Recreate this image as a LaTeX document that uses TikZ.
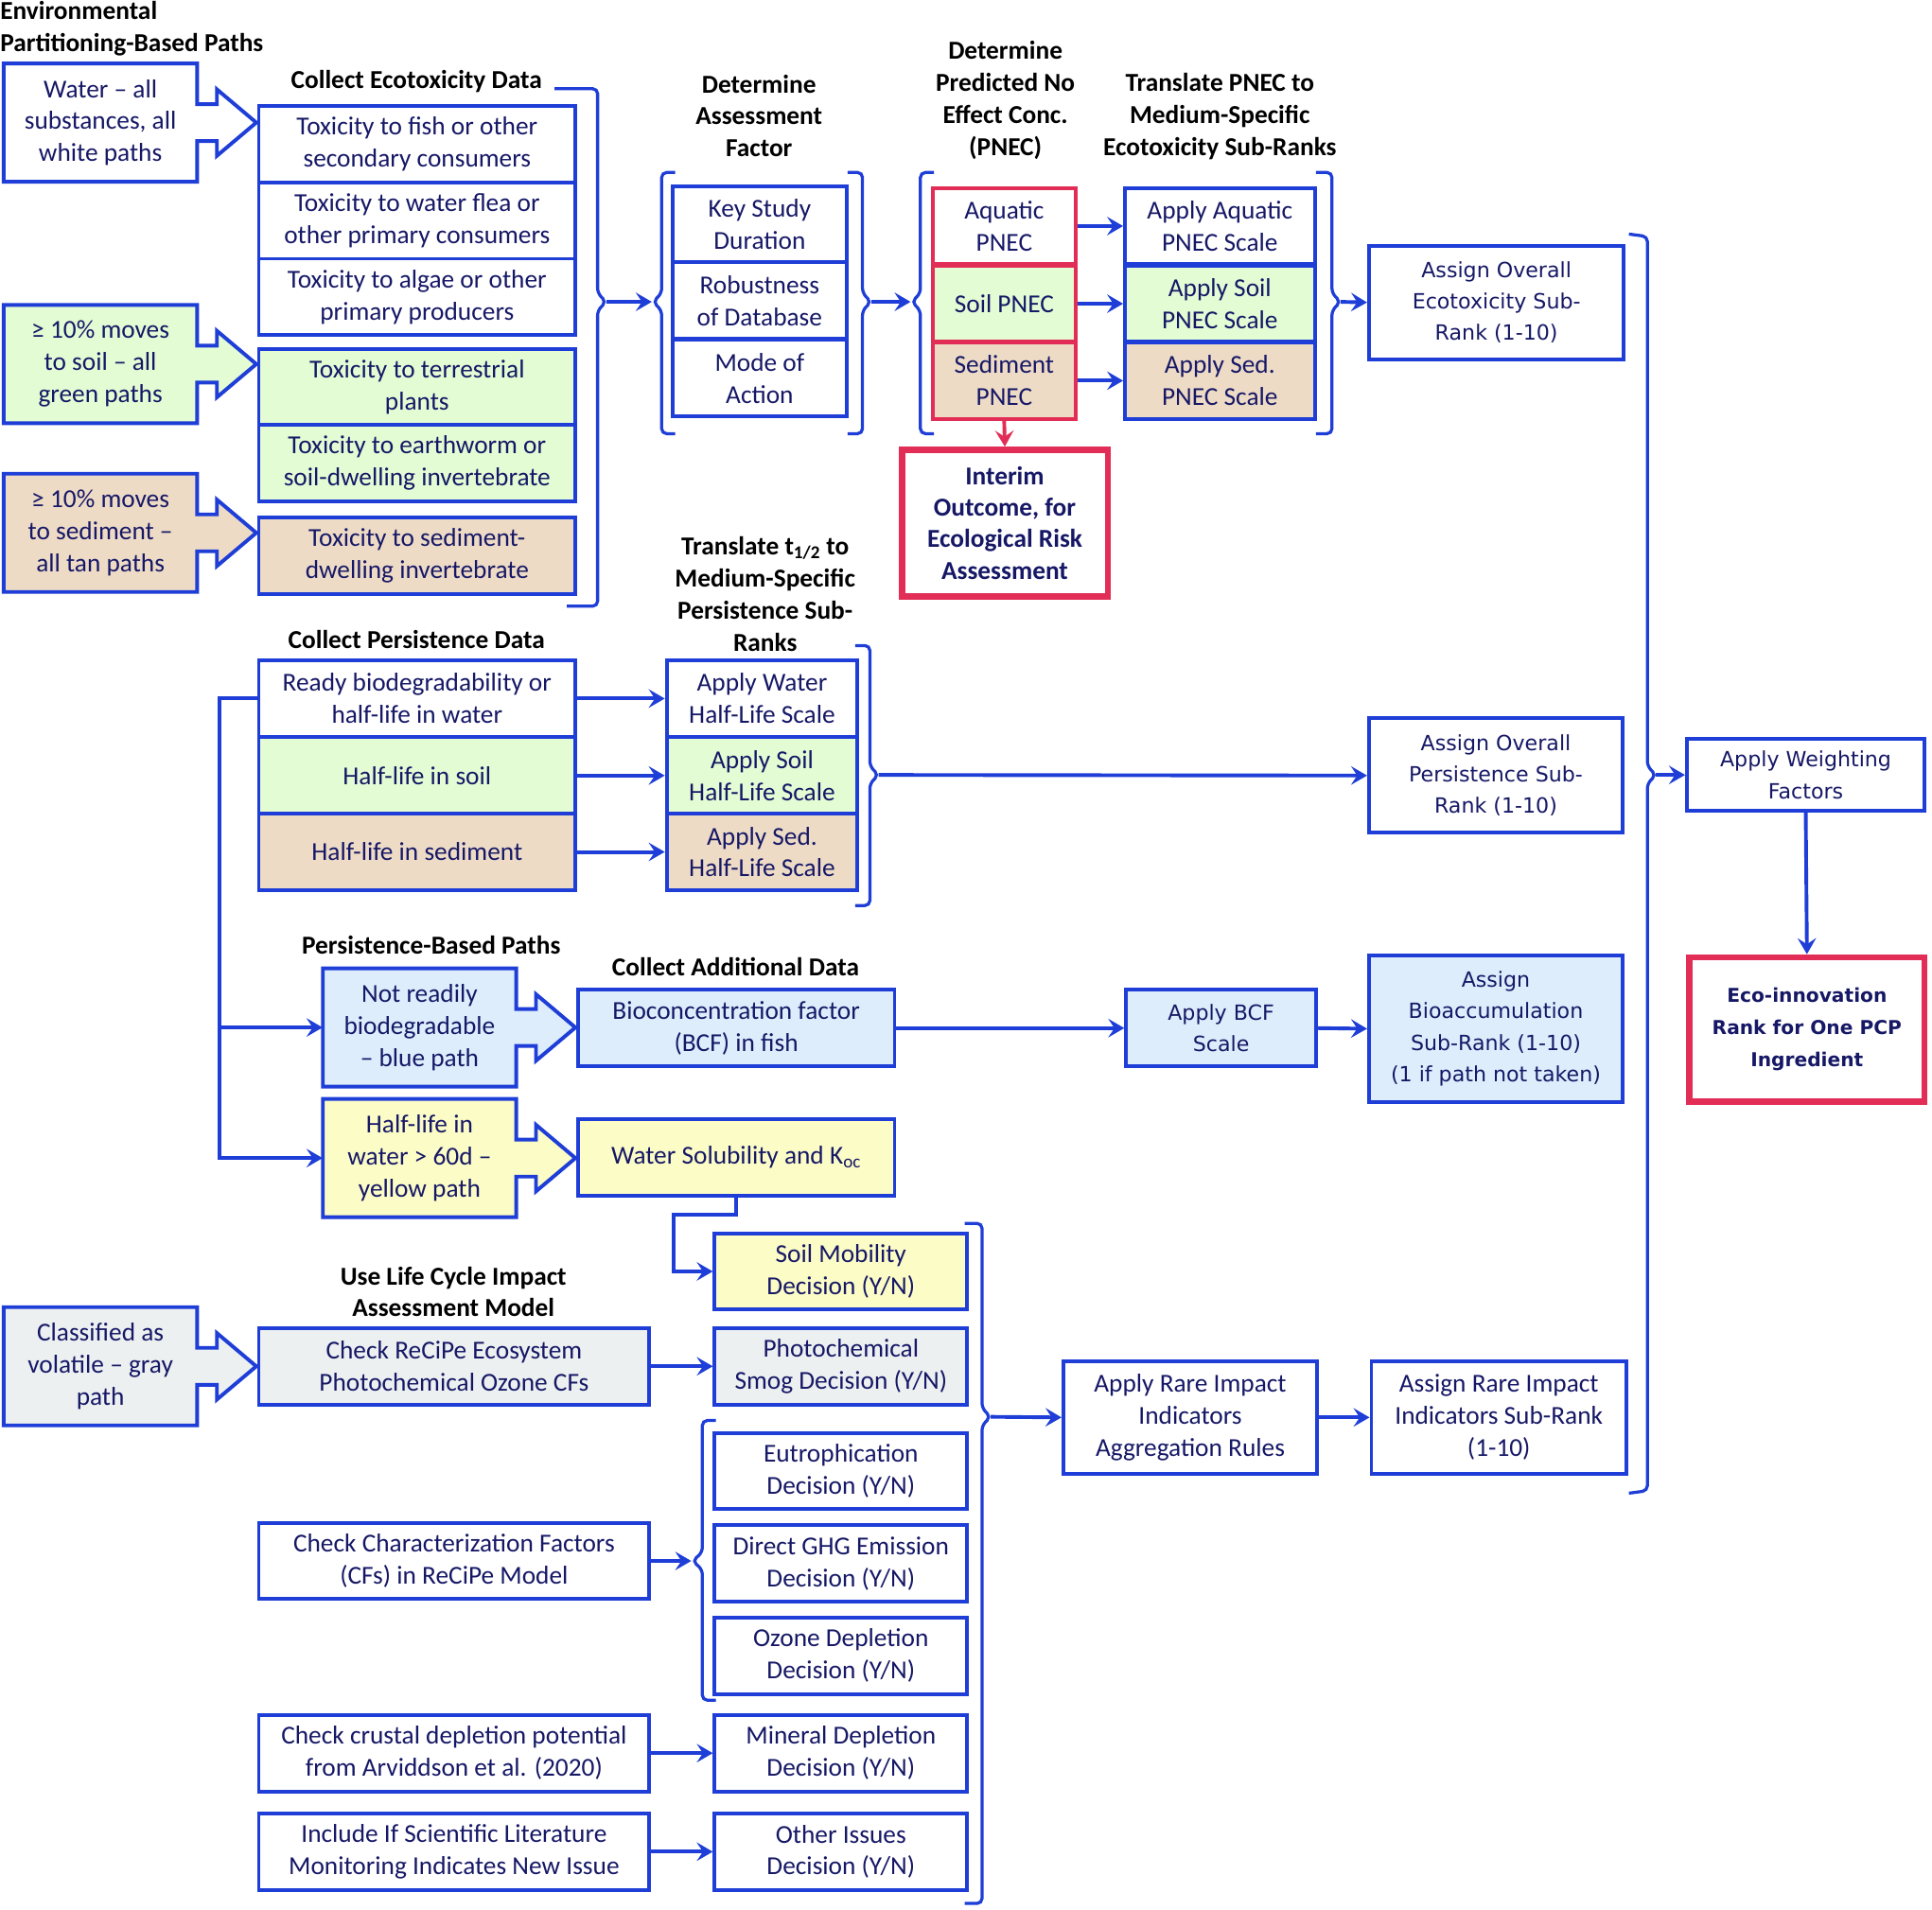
\documentclass[tikz,border=0pt]{standalone}
\usepackage{fontspec}
\setmainfont{Carlito}
\newfontfamily\verdfont{DejaVu Sans}
\usetikzlibrary{arrows.meta, calc}
\definecolor{bblue}{RGB}{30,62,215}
\definecolor{navy}{RGB}{22,24,102}
\definecolor{rred}{RGB}{226,46,86}
\definecolor{grn}{RGB}{228,252,212}
\definecolor{tanc}{RGB}{238,219,198}
\definecolor{lblue}{RGB}{221,237,252}
\definecolor{ylw}{RGB}{252,252,198}
\definecolor{gry}{RGB}{237,240,240}
\tikzset{>={Stealth[length=13pt,width=15pt,inset=5pt]}}
\tikzset{
  databox/.style={draw=bblue, line width=3pt, text=navy, align=center, inner sep=0pt,
    minimum height=62pt, font=\fontsize{21}{26}\selectfont},
  whitebox/.style={databox, fill=white},
  greenbox/.style={databox, fill=grn},
  tanbox/.style={databox, fill=tanc},
  bluebox/.style={databox, fill=lblue},
  yellowbox/.style={databox, fill=ylw},
  graybox/.style={databox, fill=gry},
  pnecbox/.style={databox, draw=rred},
  verdbox/.style={databox, font=\verdfont\fontsize{17}{25.5}\selectfont},
  heading/.style={align=center, inner sep=0pt, text=black, font=\bfseries\fontsize{21}{26}\selectfont},
  calltext/.style={align=center, inner sep=0pt, text=navy, minimum width=157pt, minimum height=96pt,
    font=\fontsize{21}{26}\selectfont},
  flow/.style={draw=bblue, line width=3pt, ->},
  brk/.style={draw=bblue, line width=2.5pt, rounded corners=4pt},
}
% path box: name, centre, fill, text
\newcommand*{\callbox}[4]{%
  \draw[draw=bblue, line width=3pt, fill=#3, line join=miter]
    ($#2+(-78.5,-48)$) -- ($#2+(78.5,-48)$) -- ($#2+(78.5,-15)$) -- ($#2+(94.5,-15)$)
    -- ($#2+(94.5,-27)$) -- ($#2+(126.5,0)$) -- ($#2+(94.5,27)$) -- ($#2+(94.5,15)$)
    -- ($#2+(78.5,15)$) -- ($#2+(78.5,48)$) -- ($#2+(-78.5,48)$) -- cycle;
  \node[calltext] (#1) at #2 {#4};
}

\begin{document}
\begin{tikzpicture}[x=1pt, y=-1pt]
    \useasboundingbox (0,0) rectangle (1568,1550);

    % headings
    \node[heading, align=left, anchor=west] (tEnv) at (0,23) {Environmental\\Partitioning-Based Paths};
    \node[heading] (tEco) at (338,66) {Collect Ecotoxicity Data};
    \node[heading] (tAF) at (616,94) {Determine\\Assessment\\Factor};
    \node[heading] (tPNEC) at (816,81.5) {Determine\\Predicted No\\Effect Conc.\\(PNEC)};
    \node[heading] (tScale) at (990,94.5) {Translate PNEC to\\Medium-Specific\\Ecotoxicity Sub-Ranks};
    \node[heading] (tHalf) at (621,482) {Translate t\textsubscript{1/2} to\\Medium-Specific\\Persistence Sub-\\Ranks};
    \node[heading] (tPers) at (338,519) {Collect Persistence Data};
    \node[heading] (tPath) at (350,767) {Persistence-Based Paths};
    \node[heading] (tAdd) at (597,785) {Collect Additional Data};
    \node[heading] (tLCIA) at (368,1048.5) {Use Life Cycle Impact\\Assessment Model};

    % partitioning paths
    \callbox{pWater}{(81.5,99.5)}{white}{Water – all\\substances, all\\white paths}
    \callbox{pSoil}{(81.5,295.5)}{grn}{≥ 10\% moves\\to soil – all\\green paths}
    \callbox{pSed}{(81.5,432.5)}{tanc}{≥ 10\% moves\\to sediment –\\all tan paths}

    % ecotoxicity data
    \node[whitebox, minimum width=257pt] (fish) at (338.5,117) {Toxicity to fish or other\\secondary consumers};
    \node[whitebox, minimum width=257pt] (flea) at (338.5,179) {Toxicity to water flea or\\other primary consumers};
    \node[whitebox, minimum width=257pt] (algae) at (338.5,241) {Toxicity to algae or other\\primary producers};
    \node[greenbox, minimum width=257pt] (plant) at (338.5,314) {Toxicity to terrestrial\\plants};
    \node[greenbox, minimum width=257pt] (worm) at (338.5,376) {Toxicity to earthworm or\\soil-dwelling invertebrate};
    \node[tanbox, minimum width=257pt] (sedInv) at (338.5,451) {Toxicity to sediment-\\dwelling invertebrate};

    % assessment factor
    \node[whitebox, minimum width=141pt] (keyStudy) at (616.5,182) {Key Study\\Duration};
    \node[whitebox, minimum width=141pt] (robust) at (616.5,244) {Robustness\\of Database};
    \node[whitebox, minimum width=141pt] (mode) at (616.5,307) {Mode of\\Action};

    % PNEC
    \node[pnecbox, fill=white, minimum width=116pt] (aqP) at (815,183.5) {Aquatic\\PNEC};
    \node[pnecbox, fill=grn, minimum width=116pt] (soilP) at (815,246.5) {Soil PNEC};
    \node[pnecbox, fill=tanc, minimum width=116pt] (sedP) at (815,309) {Sediment\\PNEC};
    \node[whitebox, minimum width=154pt] (aqS) at (990,183.5) {Apply Aquatic\\PNEC Scale};
    \node[greenbox, minimum width=154pt] (soilS) at (990,246.5) {Apply Soil\\PNEC Scale};
    \node[tanbox, minimum width=154pt] (sedS) at (990,309) {Apply Sed.\\PNEC Scale};
    \node[databox, draw=rred, line width=5pt, fill=white, minimum width=167pt, minimum height=119pt,
      font=\bfseries\fontsize{21}{25.5}\selectfont] (interim) at (815.5,424.5)
      {Interim\\Outcome, for\\Ecological Risk\\Assessment};
    \node[verdbox, fill=white, minimum width=207pt, minimum height=92pt] (ecoRank) at (1214.5,245.5)
      {Assign Overall\\Ecotoxicity Sub-\\Rank (1-10)};

    % persistence
    \node[whitebox, minimum width=257pt] (ready) at (338.5,567) {Ready biodegradability or\\half-life in water};
    \node[greenbox, minimum width=257pt] (hlSoil) at (338.5,629.5) {Half-life in soil};
    \node[tanbox, minimum width=257pt] (hlSed) at (338.5,691.5) {Half-life in sediment};
    \node[whitebox, minimum width=155pt] (hlW) at (618.5,567) {Apply Water\\Half-Life Scale};
    \node[greenbox, minimum width=155pt] (hlS) at (618.5,629.5) {Apply Soil\\Half-Life Scale};
    \node[tanbox, minimum width=155pt] (hlD) at (618.5,691.5) {Apply Sed.\\Half-Life Scale};
    \node[verdbox, fill=white, minimum width=206pt, minimum height=93pt] (persRank) at (1214,629.5)
      {Assign Overall\\Persistence Sub-\\Rank (1-10)};

    % persistence-based paths
    \callbox{pBlue}{(340.5,834)}{lblue}{Not readily\\biodegradable\\– blue path}
    \callbox{pYel}{(340.5,940)}{ylw}{Half-life in\\water > 60d –\\yellow path}
    \node[bluebox, minimum width=257pt] (bcf) at (597.5,834.5) {Bioconcentration factor\\(BCF) in fish};
    \node[yellowbox, minimum width=257pt] (sol) at (597.5,939.5) {Water Solubility and K\textsubscript{oc}};
    \node[verdbox, fill=lblue, minimum width=154pt] (bcfS) at (991,834.5) {Apply BCF\\Scale};
    \node[verdbox, fill=lblue, minimum width=206pt, minimum height=119pt] (bioRank) at (1214,835)
      {Assign\\Bioaccumulation\\Sub-Rank (1-10)\\(1 if path not taken)};

    % weighting
    \node[verdbox, fill=white, minimum width=193pt, minimum height=58pt] (weight) at (1465.5,629)
      {Apply Weighting\\Factors};
    \node[databox, draw=rred, line width=5pt, fill=white, minimum width=191pt, minimum height=117pt,
      font=\verdfont\bfseries\fontsize{15.5}{26}\selectfont] (eco) at (1466.5,835.5)
      {Eco-innovation\\Rank for One PCP\\Ingredient};

    % rare impact indicators
    \callbox{pGray}{(81.5,1109)}{gry}{Classified as\\volatile – gray\\path}
    \node[graybox, minimum width=317pt] (recipe) at (368.5,1109) {Check ReCiPe Ecosystem\\Photochemical Ozone CFs};
    \node[whitebox, minimum width=317pt] (cf) at (368.5,1267) {Check Characterization Factors\\(CFs) in ReCiPe Model};
    \node[whitebox, minimum width=317pt] (crust) at (368.5,1423) {Check crustal depletion potential\\from Arviddson et al. (2020)};
    \node[whitebox, minimum width=317pt] (lit) at (368.5,1503) {Include If Scientific Literature\\Monitoring Indicates New Issue};
    \node[yellowbox, minimum width=205pt] (soilMob) at (682.5,1032) {Soil Mobility\\Decision (Y/N)};
    \node[graybox, minimum width=205pt] (smog) at (682.5,1109) {Photochemical\\Smog Decision (Y/N)};
    \node[whitebox, minimum width=205pt] (eutro) at (682.5,1194) {Eutrophication\\Decision (Y/N)};
    \node[whitebox, minimum width=205pt] (ghg) at (682.5,1269) {Direct GHG Emission\\Decision (Y/N)};
    \node[whitebox, minimum width=205pt] (ozone) at (682.5,1344) {Ozone Depletion\\Decision (Y/N)};
    \node[whitebox, minimum width=205pt] (mineral) at (682.5,1423) {Mineral Depletion\\Decision (Y/N)};
    \node[whitebox, minimum width=205pt] (other) at (682.5,1503) {Other Issues\\Decision (Y/N)};
    \node[whitebox, minimum width=206pt, minimum height=91pt] (rareA) at (966,1150.5)
      {Apply Rare Impact\\Indicators\\Aggregation Rules};
    \node[whitebox, minimum width=207pt, minimum height=91pt] (rareR) at (1216.5,1150.5)
      {Assign Rare Impact\\Indicators Sub-Rank\\(1-10)};

    % brackets
    \draw[brk] (450,72) -- (485,72) -- (485,238) -- (492,245) -- (485,252) -- (485,492) -- (460,492);
    \draw[brk] (548,140) -- (537,140) -- (537,238) -- (530,245) -- (537,252) -- (537,352) -- (548,352);
    \draw[brk] (688,140) -- (700,140) -- (700,238) -- (707,245) -- (700,252) -- (700,352) -- (688,352);
    \draw[brk] (758,140) -- (747,140) -- (747,238) -- (740,245) -- (747,252) -- (747,352) -- (758,352);
    \draw[brk] (1068,140) -- (1081,140) -- (1081,238) -- (1088,245) -- (1081,252) -- (1081,352) -- (1068,352);
    \draw[brk] (694,524) -- (706,524) -- (706,622) -- (713,629) -- (706,636) -- (706,735) -- (694,735);
    \draw[brk] (1322,190) -- (1337,192) -- (1337,622) -- (1344,629) -- (1337,636) -- (1337,1210) -- (1322,1212);
    \draw[brk] (581,1153) -- (570,1153) -- (570,1260) -- (562,1267) -- (570,1274) -- (570,1380) -- (581,1380);
    \draw[brk] (783,993) -- (797,993) -- (797,1143) -- (804,1150) -- (797,1157) -- (797,1545) -- (783,1545);
    \coordinate (ecoOut) at (492,245);
    \coordinate (afIn) at (529,245);
    \coordinate (afOut) at (707,245);
    \coordinate (pnecIn) at (739,245);
    \coordinate (scaleOut) at (1088,245);
    \coordinate (persOut) at (713,629);
    \coordinate (rankOut) at (1344,629);
    \coordinate (lcaIn) at (561,1267);
    \coordinate (lcaOut) at (804,1150);
    \coordinate (bus) at (178,567);

    % connectors
    \draw[flow] (ecoOut) -- (afIn);
    \draw[flow] (afOut) -- (pnecIn);
    \draw[flow] (aqP.east) -- (aqS.west);
    \draw[flow] (soilP.east) -- (soilS.west);
    \draw[flow] (sedP.east) -- (sedS.west);
    \draw[flow] (scaleOut) -- (ecoRank.west);
    \draw[flow, draw=rred] (sedP.south) -- (interim.north);
    \draw[flow] (ready.east) -- (hlW.west);
    \draw[flow] (hlSoil.east) -- (hlS.west);
    \draw[flow] (hlSed.east) -- (hlD.west);
    \draw[flow] (persOut) -- (persRank.west);
    \draw[flow] (rankOut) -- (weight.west);
    \draw[flow] (weight.south) -- (eco.north);
    \draw[flow] (ready.west) -- (bus) |- (pYel.west);
    \draw[flow] (bus |- pBlue.west) -- (pBlue.west);
    \draw[flow] (bcf.east) -- (bcfS.west);
    \draw[flow] (bcfS.east) -- (bioRank.west);
    \draw[flow] (sol.south) -- ++(0,14) -| ($(soilMob.west)+(-32,0)$) -- (soilMob.west);
    \draw[flow] (recipe.east) -- (smog.west);
    \draw[flow] (cf.east) -- (lcaIn);
    \draw[flow] (crust.east) -- (mineral.west);
    \draw[flow] (lit.east) -- (other.west);
    \draw[flow] (lcaOut) -- (rareA.west);
    \draw[flow] (rareA.east) -- (rareR.west);
\end{tikzpicture}
\end{document}
